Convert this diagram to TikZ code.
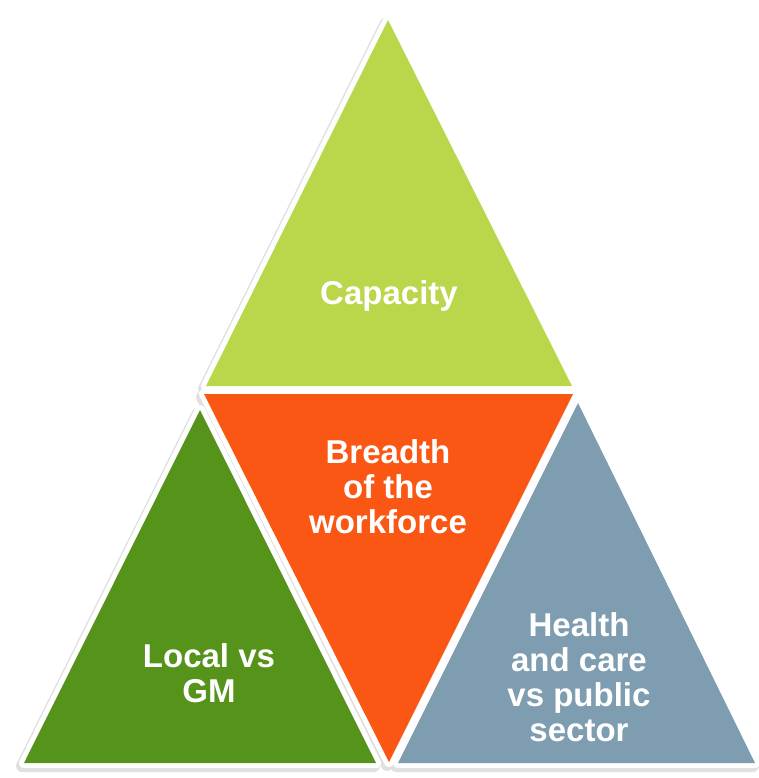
\documentclass[tikz,border=0pt]{standalone}
\usepackage{fontspec}
\setmainfont{Liberation Sans}
\definecolor{capgreen}{HTML}{BAD74B}
\definecolor{breadthorange}{HTML}{FA5714}
\definecolor{localgreen}{HTML}{56931A}
\definecolor{healthblue}{HTML}{7F9DB0}
\tikzset{
  trishadow/.style={draw=black!12, fill=black!12, line width=12pt, line join=round},
  tri/.style={preaction={draw=white, line width=10pt, line join=round}},
  lbl/.style={text=white, align=center, font=\bfseries\fontsize{33}{35}\selectfont},
}
\begin{document}
\begin{tikzpicture}[x=1pt, y=-1pt]
	\useasboundingbox (0,0) rectangle (759,778);
	% shadows
	\begin{scope}[shift={(-2,3)}]
		\path[trishadow] (388,20)--(206,386)--(572,386)--cycle;
		\path[trishadow] (200,410)--(24,763)--(376,763)--cycle;
		\path[trishadow] (578,403)--(398,763)--(755,763)--cycle;
		\path[trishadow] (204,394)--(573,394)--(389,762)--cycle;
	\end{scope}
	% triangles
	\fill[tri, capgreen] (388,20)--(206,386)--(572,386)--cycle;
	\fill[tri, localgreen] (200,410)--(24,763)--(376,763)--cycle;
	\fill[tri, healthblue] (578,403)--(398,763)--(755,763)--cycle;
	\fill[tri, breadthorange] (204,394)--(573,394)--(389,762)--cycle;
	% labels
	\node[lbl] (capacity) at (389,296) {Capacity};
	\node[lbl] (breadth) at (388,487) {Breadth\\of the\\workforce};
	\node[lbl] (local) at (209,673) {Local vs\\GM};
	\node[lbl] (health) at (579,677) {Health\\and care\\vs public\\sector};
\end{tikzpicture}
\end{document}
